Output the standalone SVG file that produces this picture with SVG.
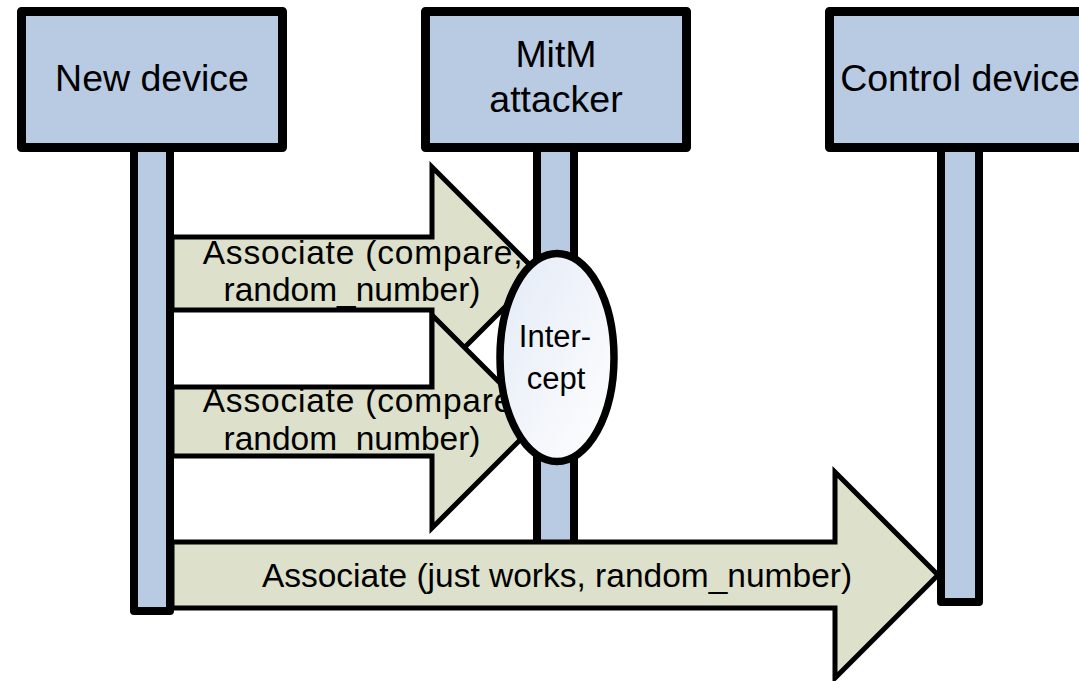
<svg xmlns="http://www.w3.org/2000/svg" width="1079" height="681" viewBox="0 0 1079 681">
  <defs>
    <linearGradient id="interceptFill" x1="0" y1="0" x2="1" y2="1">
      <stop offset="0" stop-color="#e3eaf6"/>
      <stop offset="1" stop-color="#ffffff"/>
    </linearGradient>
    <style>
      .actor { fill: #b9cae3; stroke: #000; stroke-width: 9; stroke-linejoin: round; }
      .life { fill: #b9cae3; stroke: #000; stroke-width: 8; stroke-linejoin: round; }
      .msg { fill: #dde0ca; stroke: #000; stroke-width: 5; stroke-linejoin: miter; }
      .big { font-family: "Liberation Sans", Arial, sans-serif; font-size: 37.5px; fill: #000; text-anchor: middle; }
      .lbl { font-family: "Liberation Sans", Arial, sans-serif; font-size: 33.5px; fill: #000; text-anchor: middle; }
      .wide { letter-spacing: 0.8px; }
      .mid { font-family: "Liberation Sans", Arial, sans-serif; font-size: 31px; fill: #000; text-anchor: middle; }
    </style>
  </defs>
  <rect width="1079" height="681" fill="#ffffff"/>

  <!-- lifelines -->
  <g id="lifelines">
    <rect class="life" x="134" y="148" width="36" height="463"/>
    <rect class="life" x="537" y="148" width="37" height="420"/>
    <rect class="life" x="941" y="148" width="38" height="454"/>
  </g>

  <!-- participants -->
  <g id="new-device">
    <rect class="actor" x="21.5" y="11.5" width="261" height="136"/>
    <text class="big" x="152" y="91">New device</text>
  </g>
  <g id="mitm-attacker">
    <rect class="actor" x="425.5" y="11.5" width="261" height="136"/>
    <text class="big" x="556" y="67">MitM</text>
    <text class="big" x="556" y="112">attacker</text>
  </g>
  <g id="control-device">
    <rect class="actor" x="829.5" y="11.5" width="261" height="136"/>
    <text class="big" x="960" y="91">Control device</text>
  </g>

  <!-- messages -->
  <g id="connectors">
    <g id="msg-1">
      <polygon class="msg" points="172,237 432,237 432,167 538.5,273.5 432,380 432,310 172,310"/>
      <text class="lbl wide" x="363" y="264">Associate (compare,</text>
      <text class="lbl" x="352" y="301">random_number)</text>
    </g>
    <g id="msg-2">
      <polygon class="msg" points="172,387 432,387 432,315 538.5,421.5 432,528 432,456 172,456"/>
      <text class="lbl wide" x="363" y="412">Associate (compare,</text>
      <text class="lbl" x="352" y="450">random_number)</text>
    </g>
    <g id="msg-3">
      <polygon class="msg" points="172,542 835,542 835,472 938,575 835,678 835,608 172,608"/>
      <text class="lbl" x="557" y="587">Associate (just works, random_number)</text>
    </g>
  </g>

  <!-- interception point on the attacker lifeline -->
  <g id="intercept">
    <ellipse cx="557" cy="357.5" rx="57" ry="104" fill="url(#interceptFill)" stroke="#000" stroke-width="7.5"/>
    <text class="mid" x="555" y="347">Inter-</text>
    <text class="mid" x="556" y="389">cept</text>
  </g>
</svg>
